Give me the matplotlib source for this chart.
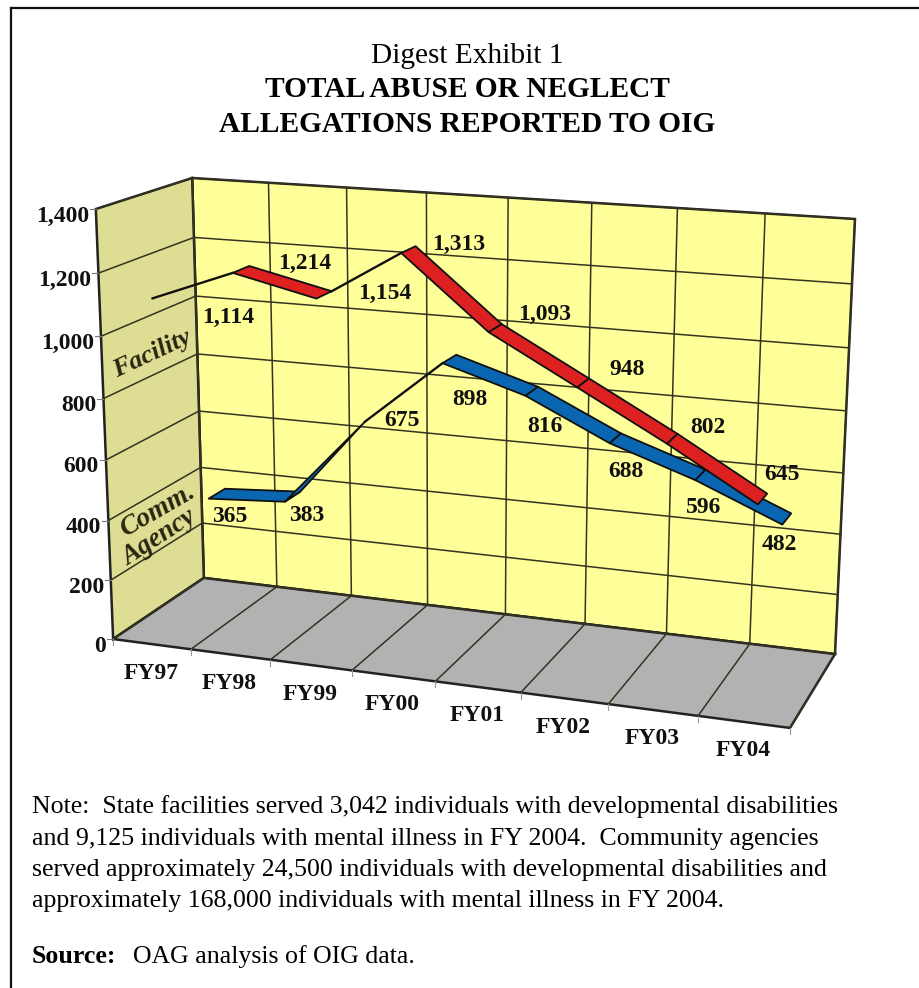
import matplotlib
matplotlib.use("Agg")
import matplotlib.pyplot as plt
import numpy as np
from matplotlib.patches import Polygon

YEARS = ["FY97", "FY98", "FY99", "FY00", "FY01", "FY02", "FY03", "FY04"]
FACILITY = [1114, 1214, 1154, 1313, 1093, 948, 802, 645]
AGENCY = [365, 383, 675, 898, 816, 688, 596, 482]
Y_TICKS = [0, 200, 400, 600, 800, 1000, 1200, 1400]

NOTE_LINES = [
    "Note:  State facilities served 3,042 individuals with developmental disabilities",
    "and 9,125 individuals with mental illness in FY 2004.  Community agencies",
    "served approximately 24,500 individuals with developmental disabilities and",
    "approximately 168,000 individuals with mental illness in FY 2004.",
]

# box corners (category position, value, depth) and where they land in pixels
BOX_3D = [(0, 1400, 0), (0, 0, 0), (0, 1400, 1), (0, 0, 1), (8, 1400, 1), (8, 0, 1), (8, 0, 0)]
BOX_PX = [(96, 209), (113, 639), (192, 178), (204, 578), (855, 219), (835, 654), (790, 728)]

# how each stretch of a ribbon is drawn
FACILITY_SEGS = ["line", "band", "backline", "band", "band", "band", "band"]
AGENCY_SEGS = ["band", "taper", "line", "band", "band", "band", "band"]
FACILITY_DEPTH = (0.13, 0.31)
AGENCY_DEPTH = (0.66, 0.85)
TAPER_TIP = 0.70

# value label centres in pixels
FACILITY_LABELS = [(228, 315), (305, 261), (385, 291), (459, 242), (545, 312), (627, 367), (708, 425), (782, 472)]
AGENCY_LABELS = [(230, 514), (307, 513), (402, 418), (470, 397), (545, 424), (626, 469), (704, 505), (779, 542)]


def fit_camera(pts3, pts2):
    # direct linear transform, least squares over the box corners
    rows = []
    for (x, v, z), (u, w) in zip(pts3, pts2):
        p = [x, v / 1400, z, 1]
        rows.append(p + [0, 0, 0, 0] + [-u * c for c in p])
        rows.append([0, 0, 0, 0] + p + [-w * c for c in p])
    return np.linalg.svd(np.array(rows, dtype=float))[2][-1].reshape(3, 4)


CAM = fit_camera(BOX_3D, BOX_PX)


def proj(x, v, z):
    h = CAM @ np.array([x, v / 1400, z, 1])
    return h[0] / h[2], h[1] / h[2]


def ribbon(ax, values, segs, depth, color, zorder):
    z0, z1 = depth
    for i, seg in enumerate(segs):
        a, b = i + 0.5, i + 1.5
        va, vb = values[i], values[i + 1]
        if seg == "band":
            pts = [proj(a, va, z0), proj(b, vb, z0), proj(b, vb, z1), proj(a, va, z1)]
            ax.add_patch(Polygon(pts, fc=color, ec="#101010", lw=1.3, joinstyle="round", zorder=zorder))
        elif seg == "taper":
            pts = [proj(a, va, z0), proj(b, vb, TAPER_TIP), proj(a, va, z1)]
            ax.add_patch(Polygon(pts, fc=color, ec="#101010", lw=1.3, joinstyle="round", zorder=zorder))
        else:
            start = z0
            if seg == "backline":
                start = z1
            elif segs[i - 1] == "taper":
                start = TAPER_TIP
            p, q = proj(a, va, start), proj(b, vb, z0)
            ax.plot([p[0], q[0]], [p[1], q[1]], color="#101010", lw=1.7, zorder=zorder)


plt.rcParams["font.family"] = ["Liberation Serif", "DejaVu Serif"]

fig = plt.figure(figsize=(9.2, 9.88), dpi=100)
ax = fig.add_axes([0, 0, 1, 1])
ax.set_xlim(0, 920)
ax.set_ylim(988, 0)
ax.axis("off")

# frame: top and left rules, the rest runs off the page
ax.plot([11, 11], [988, 8], color="#111111", lw=1.6, zorder=0)
ax.plot([11, 920], [8, 8], color="#111111", lw=1.6, zorder=0)

# title block
ax.text(467, 63, "Digest Exhibit 1", ha="center", va="baseline", fontsize=21.2, color="black")
ax.text(467, 97, "TOTAL ABUSE OR NEGLECT", ha="center", va="baseline", fontsize=21.2, fontweight="bold", color="black")
ax.text(467, 132, "ALLEGATIONS REPORTED TO OIG", ha="center", va="baseline", fontsize=21.2, fontweight="bold", color="black")

# box faces
wall = [proj(0, 0, 1), proj(8, 0, 1), proj(8, 1400, 1), proj(0, 1400, 1)]
side = [proj(0, 0, 0), proj(0, 0, 1), proj(0, 1400, 1), proj(0, 1400, 0)]
floor = [proj(0, 0, 0), proj(8, 0, 0), proj(8, 0, 1), proj(0, 0, 1)]
ax.add_patch(Polygon(wall, fc="#FFFF99", ec="#222222", lw=1.8, zorder=1))
ax.add_patch(Polygon(side, fc="#DEDD94", ec="#222222", lw=1.8, zorder=1))
ax.add_patch(Polygon(floor, fc="#B2B2B2", ec="#222222", lw=1.8, zorder=1))

# value gridlines round the side and back walls, plus tick labels
for v in Y_TICKS:
    p0, p1, p2 = proj(0, v, 0), proj(0, v, 1), proj(8, v, 1)
    ax.plot([p0[0], p1[0], p2[0]], [p0[1], p1[1], p2[1]], color="#333320", lw=1.1, zorder=2)
    ax.plot([p0[0] - 6, p0[0]], [p0[1], p0[1]], color="#777777", lw=0.8, zorder=2)
    ax.text(p0[0] - 7, p0[1] + 7, f"{v:,}", ha="right", va="center", fontsize=17, fontweight="bold", color="#111111")

# category gridlines across the back wall and the floor
for i in range(9):
    a, b, c = proj(i, 1400, 1), proj(i, 0, 1), proj(i, 0, 0)
    ax.plot([a[0], b[0], c[0]], [a[1], b[1], c[1]], color="#333320", lw=1.1, zorder=2)
    ax.plot([c[0], c[0]], [c[1], c[1] + 6], color="#999999", lw=0.8, zorder=2)

for i, name in enumerate(YEARS):
    fx, fy = proj(i + 0.5, 0, 0)
    ax.text(fx - 1, fy + 29, name, ha="center", va="center", fontsize=17, fontweight="bold", color="#111111")

ribbon(ax, AGENCY, AGENCY_SEGS, AGENCY_DEPTH, "#0A66B0", 3)
ribbon(ax, FACILITY, FACILITY_SEGS, FACILITY_DEPTH, "#DD2020", 4)

# value labels
for values, spots in [(FACILITY, FACILITY_LABELS), (AGENCY, AGENCY_LABELS)]:
    for v, (lx, ly) in zip(values, spots):
        ax.text(lx, ly + 2, f"{v:,}", ha="center", va="center", fontsize=17, fontweight="bold",
                color="#111111", zorder=5)

# series names lying on the side wall
ax.text(152, 354, "Facility", ha="center", va="center", rotation=25, fontsize=19, fontweight="bold",
        style="italic", color="#2A2510", zorder=5)
ax.text(158, 511, "Comm.", ha="center", va="center", rotation=30, fontsize=20, fontweight="bold",
        style="italic", color="#2A2510", zorder=5)
ax.text(159, 538, "Agency", ha="center", va="center", rotation=33, fontsize=19.5, fontweight="bold",
        style="italic", color="#2A2510", zorder=5)

# footnotes
for base, line in zip([813, 845, 876, 907], NOTE_LINES):
    ax.text(32, base, line, ha="left", va="baseline", fontsize=18.6, color="black")
ax.text(32, 963, "Source:", ha="left", va="baseline", fontsize=18.6, fontweight="bold", color="black")
ax.text(133, 963, "OAG analysis of OIG data.", ha="left", va="baseline", fontsize=18.6, color="black")

fig.savefig("out.png", dpi=100)
